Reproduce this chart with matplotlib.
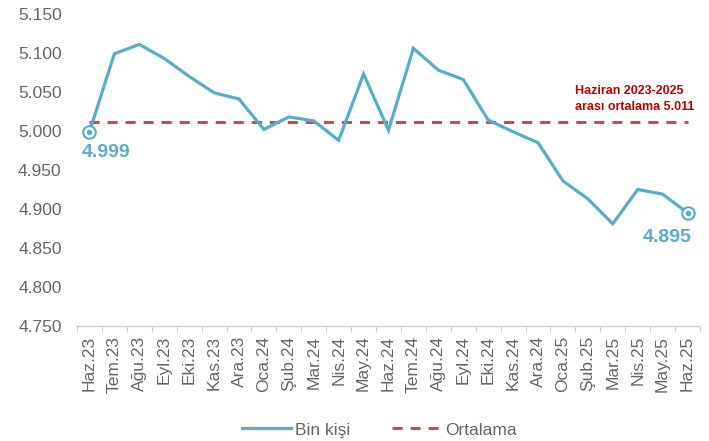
import matplotlib
matplotlib.use("Agg")
import matplotlib.pyplot as plt
from matplotlib.lines import Line2D
import numpy as np

# Aylar ve değerler (bin kişi)
aylar = ["Haz.23", "Tem.23", "Ağu.23", "Eyl.23", "Eki.23", "Kas.23", "Ara.23",
         "Oca.24", "Şub.24", "Mar.24", "Nis.24", "May.24", "Haz.24", "Tem.24",
         "Ağu.24", "Eyl.24", "Eki.24", "Kas.24", "Ara.24", "Oca.25", "Şub.25",
         "Mar.25", "Nis.25", "May.25", "Haz.25"]
bin_kisi = [4.999, 5.099, 5.111, 5.093, 5.070, 5.049, 5.041,
            5.002, 5.018, 5.013, 4.988, 5.073, 5.001, 5.106,
            5.078, 5.066, 5.014, 4.999, 4.985, 4.936, 4.913,
            4.881, 4.925, 4.919, 4.895]
ortalama = 5.011
y_ticks = [4.750, 4.800, 4.850, 4.900, 4.950, 5.000, 5.050, 5.100, 5.150]

mavi = "#5aadc7"
kirmizi = "#c0504d"
gri = "#666666"

plt.rcParams['font.family'] = ['Liberation Sans', 'DejaVu Sans']

fig = plt.figure(figsize=(7.09, 4.41), dpi=100)
ax = fig.add_axes([0.1086, 0.2608, 0.8787, 0.7075])

x = np.arange(len(aylar))
ax.plot(x, bin_kisi, color=mavi, lw=2.3, solid_joinstyle="miter", zorder=3)
ax.plot([x[0], x[-1]], [ortalama, ortalama], color=kirmizi, lw=2.2,
        dashes=(3.3, 2.6), zorder=2)

# Uç noktalar
for i in [0, len(x) - 1]:
    ax.plot(x[i], bin_kisi[i], "o", ms=9, mfc="white", mec=mavi, mew=1.5, zorder=4)
    ax.plot(x[i], bin_kisi[i], "o", ms=3, color=mavi, zorder=5)

ax.text(x[0] + 0.65, bin_kisi[0] - 0.027, f"{bin_kisi[0]:.3f}", color=mavi,
        fontsize=14, fontweight="bold", ha="center", va="center")
ax.text(x[-1] - 0.8, bin_kisi[-1] - 0.031, f"{bin_kisi[-1]:.3f}", color=mavi,
        fontsize=14, fontweight="bold", ha="center", va="center")

ax.text(19.5, 5.041, "Haziran 2023-2025\narası ortalama 5.011", color="#c00000",
        fontsize=9, fontweight="bold", ha="left", va="center", linespacing=1.55)

ax.set_xlim(-0.5, len(aylar) - 0.5)
ax.set_ylim(4.75, 5.15)
ax.set_yticks(y_ticks)
ax.set_yticklabels([f"{v:.3f}" for v in y_ticks])
ax.set_xticks(x)
ax.set_xticklabels(aylar, rotation=90)
ax.set_xticks(np.arange(-0.5, len(aylar)), minor=True)

ax.tick_params(axis="y", length=0, pad=11, labelsize=12.5, labelcolor=gri)
ax.tick_params(axis="x", which="major", length=0, pad=7, labelsize=12.5, labelcolor=gri)
ax.tick_params(axis="x", which="minor", length=4, width=0.8, color="#d0d0d0")

for s in ["top", "right", "left"]:
    ax.spines[s].set_visible(False)
ax.spines["bottom"].set_color("#d0d0d0")
ax.spines["bottom"].set_linewidth(1.0)

handles = [Line2D([0], [0], color=mavi, lw=2.3),
           Line2D([0], [0], color=kirmizi, lw=2.2, dashes=(3.3, 2.6))]
leg = fig.legend(handles, ["Bin kişi", "Ortalama"], loc="center",
                 bbox_to_anchor=(0.535, 0.025), ncol=2, frameon=False,
                 fontsize=12.5, handlelength=2.8, handletextpad=0.25, columnspacing=2.4)
for t in leg.get_texts():
    t.set_color(gri)

fig.savefig("out.png", dpi=100)
